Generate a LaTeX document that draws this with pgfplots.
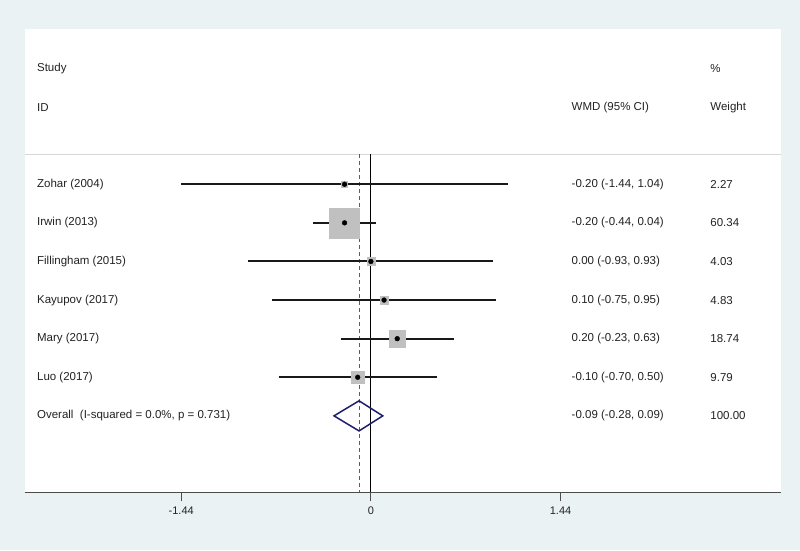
\documentclass[border=0pt]{standalone}
\usepackage{fontspec}
\setmainfont{Liberation Sans}
\usepackage{pgfplots}
\usepackage{pgfplotstable}
\pgfplotsset{compat=1.18}
\definecolor{bgblue}{RGB}{234,242,243}
\definecolor{boxgray}{RGB}{192,192,192}
\definecolor{sepgray}{RGB}{215,215,215}
\definecolor{nullred}{RGB}{190,50,70}
\definecolor{diamondnavy}{RGB}{30,30,110}
\definecolor{txt}{RGB}{35,35,35}
\tikzset{lbl/.style={anchor=west, text=txt, font=\fontsize{11.5pt}{13pt}\selectfont}}

% row, estimate, weight (%)
\pgfplotstableread{
row est w
-1 -0.20 2.27
-2 -0.20 60.34
-3 0.00 4.03
-4 0.10 4.83
-5 0.20 18.74
-6 -0.10 9.79
}\studies

\begin{document}
\begin{tikzpicture}
\fill[bgblue] (-24.5pt,-57.7pt) rectangle (775.5pt,492.3pt);
\begin{axis}[
    scale only axis,
    width=756pt, height=463.6pt,
    xmin=-2.63, xmax=3.11,
    ymin=-8.98, ymax=3.03,
    axis background/.style={fill=white},
    axis x line*=bottom,
    axis y line=none,
    x axis line style={draw=black!70, line width=1pt},
    xtick={-1.44,0,1.44},
    xticklabels={-1.44,0,1.44},
    tick align=outside,
    major tick length=9pt,
    x tick style={draw=black!70, line width=0.8pt},
    xticklabel style={font=\fontsize{11pt}{13pt}\selectfont, text=txt, yshift=-2pt},
    ytick=\empty,
    clip=false,
    ci/.style={black!90, line width=2pt},
]
% header separator
\addplot[sepgray, line width=0.9pt] coordinates {(-2.63,-0.22) (3.11,-0.22)};
% null line and overall estimate
\addplot[black, line width=0.8pt] coordinates {(0,-0.22) (0,-8.98)};
\addplot[nullred, line width=1pt, dash pattern=on 4pt off 3pt] coordinates {(-0.09,-0.22) (-0.09,-8.98)};
% weight boxes
\addplot[scatter, only marks, mark=square*,
    scatter/use mapped color={draw=boxgray, fill=boxgray},
    visualization depends on={15*sqrt(\thisrow{w}/60.34) \as \msz},
    scatter/@pre marker code/.append style={/tikz/mark size=\msz}]
    table[x=est, y=row] {\studies};
% confidence intervals
\addplot[ci] coordinates {(-1.44,-1) (1.04,-1)};
\addplot[ci] coordinates {(-0.44,-2) (0.04,-2)};
\addplot[ci] coordinates {(-0.93,-3) (0.93,-3)};
\addplot[ci] coordinates {(-0.75,-4) (0.95,-4)};
\addplot[ci] coordinates {(-0.23,-5) (0.63,-5)};
\addplot[ci] coordinates {(-0.70,-6) (0.50,-6)};
% point estimates
\addplot[only marks, mark=*, mark size=2.4pt, black] table[x=est, y=row] {\studies};
% overall diamond
\addplot[diamondnavy, line width=1.5pt, line join=miter]
    coordinates {(-0.28,-7) (-0.09,-6.61) (0.09,-7) (-0.09,-7.39)} -- cycle;

% text columns
\node[lbl] at (axis cs:-2.561,2) {Study};
\node[lbl] at (axis cs:-2.561,1) {ID};
\node[lbl] at (axis cs:1.498,1) {WMD (95\% CI)};
\node[lbl] at (axis cs:2.551,2) {\%};
\node[lbl] at (axis cs:2.551,1) {Weight};

\node[lbl] at (axis cs:-2.561,-1) {Zohar (2004)};
\node[lbl] at (axis cs:-2.561,-2) {Irwin (2013)};
\node[lbl] at (axis cs:-2.561,-3) {Fillingham (2015)};
\node[lbl] at (axis cs:-2.561,-4) {Kayupov (2017)};
\node[lbl] at (axis cs:-2.561,-5) {Mary (2017)};
\node[lbl] at (axis cs:-2.561,-6) {Luo (2017)};
\node[lbl] at (axis cs:-2.561,-7) {Overall\ \ (I-squared = 0.0\%, p = 0.731)};

\node[lbl] at (axis cs:1.498,-1) {-0.20 (-1.44, 1.04)};
\node[lbl] at (axis cs:1.498,-2) {-0.20 (-0.44, 0.04)};
\node[lbl] at (axis cs:1.498,-3) {0.00 (-0.93, 0.93)};
\node[lbl] at (axis cs:1.498,-4) {0.10 (-0.75, 0.95)};
\node[lbl] at (axis cs:1.498,-5) {0.20 (-0.23, 0.63)};
\node[lbl] at (axis cs:1.498,-6) {-0.10 (-0.70, 0.50)};
\node[lbl] at (axis cs:1.498,-7) {-0.09 (-0.28, 0.09)};

\node[lbl] at (axis cs:2.551,-1) {2.27};
\node[lbl] at (axis cs:2.551,-2) {60.34};
\node[lbl] at (axis cs:2.551,-3) {4.03};
\node[lbl] at (axis cs:2.551,-4) {4.83};
\node[lbl] at (axis cs:2.551,-5) {18.74};
\node[lbl] at (axis cs:2.551,-6) {9.79};
\node[lbl] at (axis cs:2.551,-7) {100.00};
\end{axis}
\pgfresetboundingbox
\useasboundingbox (-24.5pt,-57.7pt) rectangle (775.5pt,492.3pt);
\end{tikzpicture}
\end{document}
